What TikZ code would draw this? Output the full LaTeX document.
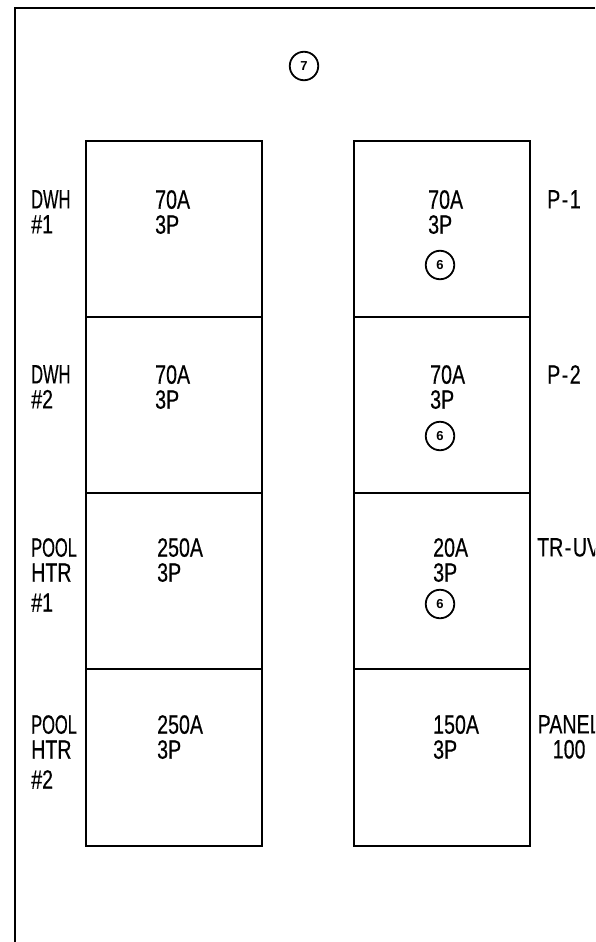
\documentclass[tikz,border=0pt]{standalone}
\usepackage{fontspec}
\setmainfont[FakeStretch=0.74,FakeBold=0.4]{Liberation Sans}
\newfontfamily\narrowfont[FakeStretch=0.62,FakeBold=0.4]{Liberation Sans}
\newfontfamily\tagfont{Liberation Sans}
\newcommand{\dsh}{\kern1.5pt-\kern1.5pt}
\tikzset{
    panelline/.style={draw=black, line width=2pt},
    brk/.style={anchor=north west, inner sep=0pt, align=left, font=\fontsize{26.5}{25}\selectfont},
    tag/.style={circle, draw=black, line width=1.8pt, fill=white, inner sep=0pt, minimum size=28.5pt, font=\fontsize{13}{13}\tagfont\bfseries}
}
\begin{document}
\begin{tikzpicture}[x=1pt, y=-1pt]
    \useasboundingbox (0,0) rectangle (595,942);
    \clip (0,0) rectangle (595,942);
    \draw[panelline] (595,8) -- (15,8) -- (15,942);

    \draw[panelline] (85.5,140.5) rectangle (262,316.5);
    \draw[panelline] (85.5,316.5) rectangle (262,493);
    \draw[panelline] (85.5,493) rectangle (262,669);
    \draw[panelline] (85.5,669) rectangle (262,845.5);

    \draw[panelline] (353.5,140.5) rectangle (530,316.5);
    \draw[panelline] (353.5,316.5) rectangle (530,493);
    \draw[panelline] (353.5,493) rectangle (530,669);
    \draw[panelline] (353.5,669) rectangle (530,845.5);

    \node [brk] (DWHa) at (31,190) {{\narrowfont DWH}\\\#1};
    \node [brk] (DWHb) at (31,365) {{\narrowfont DWH}\\\#2};
    \node [brk] (POOLa) at (31,538) {{\narrowfont POOL}\\HTR\\[5pt]\#1};
    \node [brk] (POOLb) at (31,715) {{\narrowfont POOL}\\HTR\\[5pt]\#2};

    \node [brk] (BRa) at (155,190) {70A\\3P};
    \node [brk] (BRb) at (155,365) {70A\\3P};
    \node [brk] (BRc) at (157,538) {250A\\3P};
    \node [brk] (BRd) at (157,715) {250A\\3P};

    \node [brk] (BRe) at (428,190) {70A\\3P};
    \node [brk] (BRf) at (430,365) {70A\\3P};
    \node [brk] (BRg) at (433,538) {20A\\3P};
    \node [brk] (BRh) at (433,715) {150A\\3P};

    \node [brk] (Pa) at (547,190) {P\dsh1};
    \node [brk] (Pb) at (547,365) {P\dsh2};
    \node [brk] (TRUV) at (537,538) {TR\dsh UV};
    \node [brk, align=center] (PNL) at (537.5,715) {PANEL\\100};

    \node [tag] (TAGg) at (304,66) {7};
    \node [tag] (TAGa) at (440,265) {6};
    \node [tag] (TAGb) at (440,436) {6};
    \node [tag] (TAGc) at (440,604) {6};
\end{tikzpicture}
\end{document}
